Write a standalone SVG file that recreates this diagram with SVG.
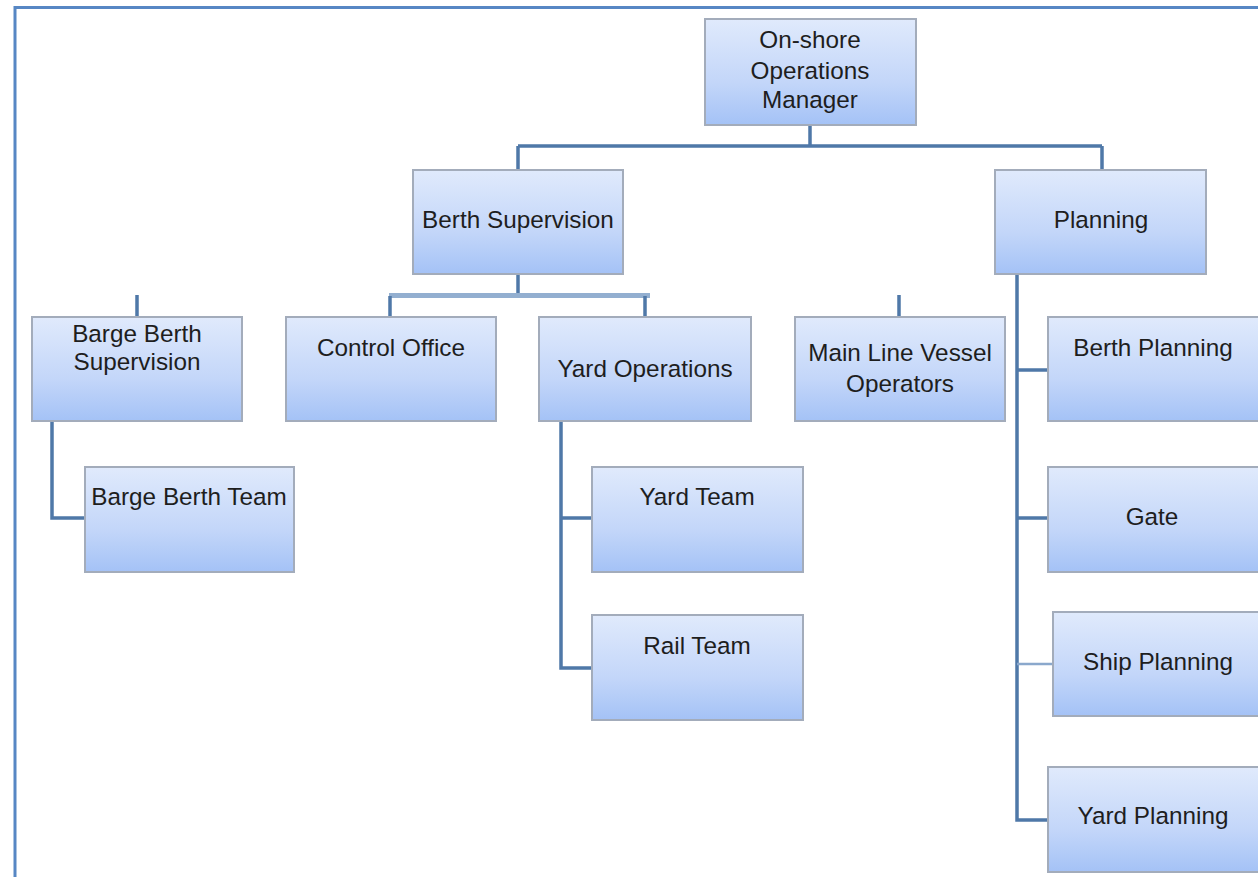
<svg xmlns="http://www.w3.org/2000/svg" width="1258" height="877" viewBox="0 0 1258 877">
<defs>
<linearGradient id="g" x1="0" y1="0" x2="0" y2="1">
<stop offset="0" stop-color="#e0eafc"/>
<stop offset="0.6" stop-color="#c3d6f9"/>
<stop offset="1" stop-color="#a4c2f6"/>
</linearGradient>
</defs>
<style>
.box{fill:url(#g);stroke:#a3acbb;stroke-width:2}
.t{font-family:"Liberation Sans",Arial,sans-serif;font-size:24.3px;fill:#1e1e1e;text-anchor:middle}
.c{fill:none;stroke:#4f78a8;stroke-width:3.5}
.cl{fill:none;stroke:#93afd0;stroke-width:5}
</style>
<rect width="1258" height="877" fill="#ffffff"/>
<path d="M15 880 V7.5 H1262" fill="none" stroke="#5787c4" stroke-width="3"/>
<g id="connectors">
<path class="c" d="M810 125 V146 M518 146 H1102 M518 146 V170 M1102 146 V170"/>
<path class="c" d="M518 274 V295"/>
<path class="cl" d="M389 295.5 H650"/>
<path class="c" d="M390 296 V317 M645 296 V317"/>
<path class="c" d="M137 295 V317 M899 295 V317"/>
<path class="c" d="M52 421 V518 H85"/>
<path class="c" d="M561 421 V668 H592 M561 518 H592"/>
<path class="c" d="M1017 274 V820 H1048 M1017 370 H1048 M1017 518 H1048"/>
<path fill="none" stroke="#8aa8cc" stroke-width="2.5" d="M1017 664 H1053"/>
</g>
<g id="n-manager"><rect class="box" x="705" y="19" width="211" height="106"/><text class="t" x="810" y="48">On-shore</text><text class="t" x="810" y="79">Operations</text><text class="t" x="810" y="108">Manager</text></g>
<g id="n-berth-supervision"><rect class="box" x="413" y="170" width="210" height="104"/><text class="t" x="518" y="228">Berth Supervision</text></g>
<g id="n-planning"><rect class="box" x="995" y="170" width="211" height="104"/><text class="t" x="1101" y="228">Planning</text></g>
<g id="n-barge-berth-supervision"><rect class="box" x="32" y="317" width="210" height="104"/><text class="t" x="137" y="342">Barge Berth</text><text class="t" x="137" y="370">Supervision</text></g>
<g id="n-control-office"><rect class="box" x="286" y="317" width="210" height="104"/><text class="t" x="391" y="356">Control Office</text></g>
<g id="n-yard-operations"><rect class="box" x="539" y="317" width="212" height="104"/><text class="t" x="645" y="377">Yard Operations</text></g>
<g id="n-main-line"><rect class="box" x="795" y="317" width="210" height="104"/><text class="t" x="900" y="361">Main Line Vessel</text><text class="t" x="900" y="392">Operators</text></g>
<g id="n-berth-planning"><rect class="box" x="1048" y="317" width="214" height="104"/><text class="t" x="1153" y="356">Berth Planning</text></g>
<g id="n-barge-berth-team"><rect class="box" x="85" y="467" width="209" height="105"/><text class="t" x="189" y="505">Barge Berth Team</text></g>
<g id="n-yard-team"><rect class="box" x="592" y="467" width="211" height="105"/><text class="t" x="697" y="505">Yard Team</text></g>
<g id="n-gate"><rect class="box" x="1048" y="467" width="214" height="105"/><text class="t" x="1152" y="525">Gate</text></g>
<g id="n-rail-team"><rect class="box" x="592" y="615" width="211" height="105"/><text class="t" x="697" y="654">Rail Team</text></g>
<g id="n-ship-planning"><rect class="box" x="1053" y="612" width="209" height="104"/><text class="t" x="1158" y="670">Ship Planning</text></g>
<g id="n-yard-planning"><rect class="box" x="1048" y="767" width="214" height="105"/><text class="t" x="1153" y="824">Yard Planning</text></g>
</svg>
